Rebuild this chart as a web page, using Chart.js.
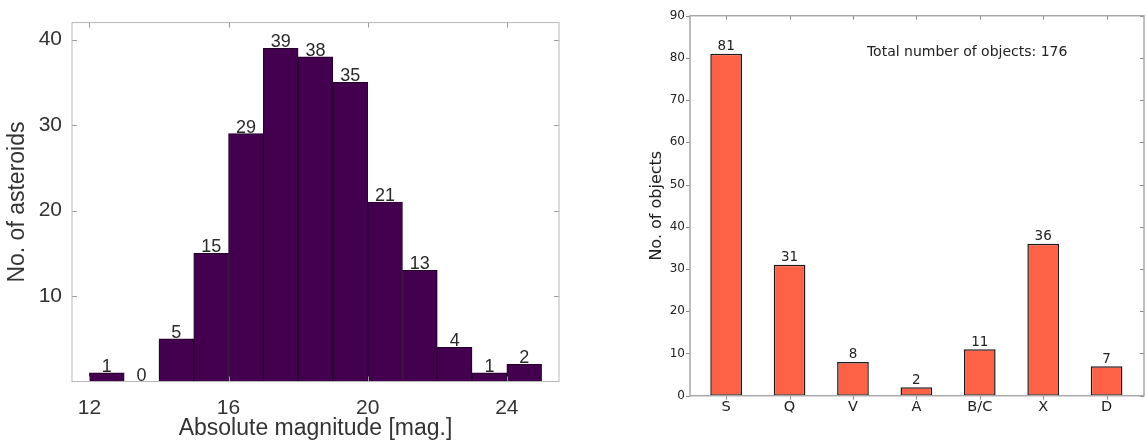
<!DOCTYPE html>
<html lang="en">
<head>
  <meta charset="UTF-8">
  <title>Asteroid statistics</title>
  <script src="https://cdn.jsdelivr.net/npm/chart.js"></script>
  <style>
    body { margin: 0; background: #fff; width: 1147px; height: 446px; overflow: hidden; position: relative; }
    #left { position: absolute; left: 0; top: 0; width: 590px; height: 446px; }
    #right { position: absolute; left: 600px; top: 0; width: 547px; height: 446px; }
  </style>
</head>
<body>
<div id="left"><canvas id="magChart"></canvas></div>
<div id="right"><canvas id="typeChart"></canvas></div>
<script>
  // histogram of absolute magnitudes (bin start, width 1)
  const magBins = [12, 13, 14, 15, 16, 17, 18, 19, 20, 21, 22, 23, 24];
  const magCounts = [1, 0, 5, 15, 29, 39, 38, 35, 21, 13, 4, 1, 2];
  const magTicks = [12, 16, 20, 24];
  const countTicks = [10, 20, 30, 40];

  // taxonomic types
  const taxTypes = ['S', 'Q', 'V', 'A', 'B/C', 'X', 'D'];
  const taxCounts = [81, 31, 8, 2, 11, 36, 7];
  const objectTicks = [0, 10, 20, 30, 40, 50, 60, 70, 80, 90];
  const totalLabel = 'Total number of objects: 176';

  // box + small tick marks (positive = into the plot)
  const frameTicks = {
    id: 'frameTicks',
    afterDatasetsDraw(chart, args, o) {
      const { ctx, chartArea: a, scales: { x, y } } = chart;
      ctx.save();
      ctx.strokeStyle = o.tickColor;
      ctx.lineWidth = 1;
      ctx.beginPath();
      x.ticks.forEach(t => {
        const px = Math.round(x.getPixelForValue(t.value)) + 0.5;
        ctx.moveTo(px, a.bottom); ctx.lineTo(px, a.bottom - o.bottom);
        ctx.moveTo(px, a.top); ctx.lineTo(px, a.top + o.top);
      });
      y.ticks.forEach(t => {
        const py = Math.round(y.getPixelForValue(t.value)) + 0.5;
        ctx.moveTo(a.left, py); ctx.lineTo(a.left + o.left, py);
        ctx.moveTo(a.right, py); ctx.lineTo(a.right - o.right, py);
      });
      ctx.stroke();
      ctx.strokeStyle = o.frameColor;
      ctx.lineWidth = o.frameWidth;
      ctx.strokeRect(a.left, a.top, a.right - a.left, a.bottom - a.top);
      ctx.restore();
    }
  };

  // numbers above bars
  const barValues = {
    id: 'barValues',
    afterDatasetsDraw(chart, args, o) {
      const { ctx } = chart;
      const meta = chart.getDatasetMeta(0);
      const data = chart.data.datasets[0].data;
      ctx.save();
      ctx.font = o.font;
      ctx.fillStyle = o.color;
      ctx.textAlign = 'center';
      ctx.textBaseline = 'alphabetic';
      meta.data.forEach((bar, i) => {
        ctx.fillText(String(data[i].y), bar.x, bar.y - o.gap);
      });
      ctx.restore();
    }
  };

  const totalNote = {
    id: 'totalNote',
    afterDraw(chart, args, o) {
      if (!o.text) return;
      const { ctx, scales: { x, y } } = chart;
      ctx.save();
      ctx.font = o.font;
      ctx.fillStyle = o.color;
      ctx.textAlign = 'left';
      ctx.textBaseline = 'middle';
      ctx.fillText(o.text, x.getPixelForValue(o.x), y.getPixelForValue(o.y));
      ctx.restore();
    }
  };

  const leftFont = 'Liberation Sans, Arial, sans-serif';
  const rightFont = 'DejaVu Sans, sans-serif';

  new Chart(document.getElementById('magChart'), {
    type: 'bar',
    data: {
      datasets: [{
        data: magBins.map((b, i) => ({ x: b + 0.5, y: magCounts[i] })),
        backgroundColor: '#42004f',
        borderColor: '#24002b',
        borderWidth: 1,
        barPercentage: 1,
        categoryPercentage: 1
      }]
    },
    options: {
      responsive: true,
      maintainAspectRatio: false,
      animation: false,
      layout: { padding: { top: 12.5, right: 31, left: 0, bottom: 0 } },
      plugins: {
        legend: { display: false },
        tooltip: { enabled: false },
        frameTicks: { tickColor: '#9a9a9a', frameColor: '#b8b8b8', frameWidth: 1, top: 5, bottom: 5, left: 5, right: 5 },
        barValues: { font: '18px ' + leftFont, color: '#2a2a2a', gap: 1 }
      },
      scales: {
        x: {
          type: 'linear',
          offset: false,
          min: 11.5,
          max: 25.5,
          grid: { display: false, drawTicks: false },
          border: { display: false },
          afterBuildTicks: s => { s.ticks = magTicks.map(v => ({ value: v })); },
          afterFit: s => { s.height = 64.5; },
          ticks: { autoSkip: false, maxRotation: 0, padding: 14, color: '#333', font: { family: leftFont, size: 21 } },
          title: { display: true, text: 'Absolute magnitude [mag.]', color: '#333', font: { family: leftFont, size: 23 }, padding: { top: 0, bottom: 4 } }
        },
        y: {
          min: 0,
          max: 42,
          grid: { display: false, drawTicks: false },
          border: { display: false },
          afterBuildTicks: s => { s.ticks = countTicks.map(v => ({ value: v })); },
          afterFit: s => { s.width = 72; },
          ticks: { padding: 10, color: '#333', font: { family: leftFont, size: 21 } },
          title: { display: true, text: 'No. of asteroids', color: '#333', font: { family: leftFont, size: 23 }, padding: { top: 4, bottom: 0 } }
        }
      }
    },
    plugins: [frameTicks, barValues]
  });

  new Chart(document.getElementById('typeChart'), {
    type: 'bar',
    data: {
      datasets: [{
        data: taxTypes.map((t, i) => ({ x: i, y: taxCounts[i] })),
        backgroundColor: '#fe6246',
        borderColor: '#1c1c1c',
        borderWidth: 1.5,
        borderSkipped: false,
        barPercentage: 0.5,
        categoryPercentage: 1
      }]
    },
    options: {
      responsive: true,
      maintainAspectRatio: false,
      animation: false,
      layout: { padding: { top: 15.7, right: 3, left: 0, bottom: 0 } },
      plugins: {
        legend: { display: false },
        tooltip: { enabled: false },
        frameTicks: { tickColor: '#888', frameColor: '#a8a8a8', frameWidth: 1.5, top: 4, bottom: -4, left: -4, right: 4 },
        barValues: { font: '13.5px ' + rightFont, color: '#222', gap: 3.5 },
        totalNote: { text: totalLabel, x: 2.22, y: 81.2, font: '14px ' + rightFont, color: '#222' }
      },
      scales: {
        x: {
          type: 'linear',
          offset: false,
          min: -0.57,
          max: 6.59,
          grid: { display: false, drawTicks: false },
          border: { display: false },
          afterBuildTicks: s => { s.ticks = taxTypes.map((t, i) => ({ value: i })); },
          afterFit: s => { s.height = 50.3; },
          ticks: {
            autoSkip: false, maxRotation: 0, padding: 2.6, color: '#222',
            font: { family: rightFont, size: 14.5 },
            callback: v => taxTypes[Math.round(v)]
          }
        },
        y: {
          min: 0,
          max: 90,
          grid: { display: false, drawTicks: false },
          border: { display: false },
          afterBuildTicks: s => { s.ticks = objectTicks.map(v => ({ value: v })); },
          afterFit: s => { s.width = 90; },
          ticks: { padding: 5, color: '#222', font: { family: rightFont, size: 12 } },
          title: { display: true, text: 'No. of objects', color: '#222', font: { family: rightFont, size: 16 }, padding: { top: 47, bottom: 0 } }
        }
      }
    },
    plugins: [frameTicks, barValues, totalNote]
  });
</script>
</body>
</html>
